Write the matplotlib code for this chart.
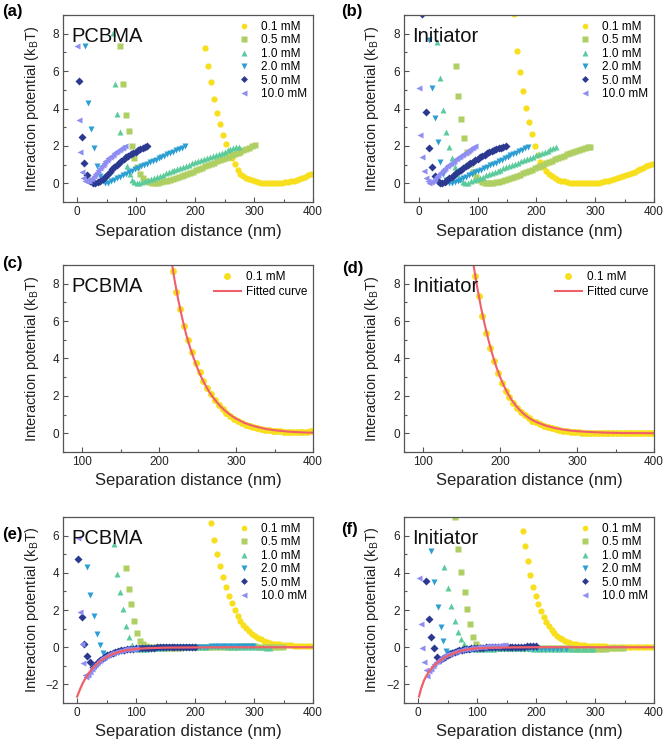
import matplotlib.pyplot as plt
from matplotlib.ticker import MultipleLocator

plt.rcParams['font.family'] = ['Liberation Sans', 'DejaVu Sans']
plt.rcParams['mathtext.fontset'] = 'custom'
plt.rcParams['mathtext.rm'] = 'Liberation Sans'

# ---- series styling ----
conc_labels = ['0.1 mM', '0.5 mM', '1.0 mM', '2.0 mM', '5.0 mM', '10.0 mM']
conc_colors = ['#f7df1e', '#afcf62', '#5ccb9c', '#2c9fd2', '#2b3990', '#8e8df2']
conc_markers = ['o', 's', '^', 'v', 'D', '<']
fit_color = '#f0606a'

# ---- (a) PCBMA ----
pa_x01 = [217, 222, 227, 232, 237, 242, 247, 252, 257, 262, 267, 272, 277, 282, 287, 292, 297, 302, 307, 312,
          317, 322, 327, 332, 337, 342, 347, 352, 357, 362, 367, 372, 377, 382, 387, 392, 397]
pa_y01 = [7.24, 6.25, 5.4, 4.5, 3.78, 3.15, 2.6, 2.12, 1.7, 1.35, 1.02, 0.72, 0.52, 0.4, 0.3, 0.22, 0.16, 0.11,
          0.07, 0.04, 0.02, 0.01, 0.0, 0.0, 0.0, 0.01, 0.03, 0.05, 0.08, 0.11, 0.15, 0.2, 0.25, 0.3, 0.36, 0.42, 0.5]
pa_x05 = [72.6, 78.3, 82.8, 87.9, 92.5, 97, 102, 107, 112, 117, 122, 127,
          132, 137, 142, 147, 152, 157, 162, 167, 172, 177, 182, 187, 192, 197, 202, 207, 212, 217, 222, 227,
          232, 237, 242, 247, 252, 257, 262, 267, 272, 277, 282, 287, 292, 297, 302]
pa_y05 = [7.33, 5.29, 3.67, 2.81, 2.0, 1.35, 0.85, 0.5, 0.28, 0.14, 0.06, 0.03,
          0.02, 0.04, 0.07, 0.1, 0.14, 0.18, 0.22, 0.27, 0.32, 0.37, 0.43, 0.49, 0.55, 0.62, 0.69, 0.76, 0.83,
          0.9, 0.97, 1.04, 1.1, 1.17, 1.24, 1.3, 1.37, 1.43, 1.5, 1.57, 1.64, 1.7, 1.77, 1.84, 1.91, 1.97, 2.04]
pa_x10 = [60, 63.5, 67.5, 72.5, 77, 81, 85, 89, 93, 97, 101, 105,
          110, 115, 120, 125, 130, 135, 140, 145, 150, 155, 160, 165, 170, 175, 180, 185, 190, 195, 200, 205,
          210, 215, 220, 225, 230, 235, 240, 245, 250, 255, 260, 265, 270, 274]
pa_y10 = [8.06, 5.3, 3.7, 2.75, 1.95, 1.45, 0.95, 0.5, 0.2, 0.07, 0.03, 0.03,
          0.06, 0.11, 0.17, 0.23, 0.29, 0.35, 0.41, 0.47, 0.53, 0.59, 0.65, 0.71, 0.77, 0.83, 0.89, 0.94, 1.0,
          1.06, 1.12, 1.17, 1.23, 1.29, 1.35, 1.41, 1.47, 1.52, 1.58, 1.64, 1.7, 1.76, 1.81, 1.87, 1.92, 1.96]
pa_x20 = [13.5, 18, 23, 28, 33, 38, 43, 48, 53, 58, 63, 68, 73, 78, 83, 88, 93, 98, 103, 108, 113, 118, 123,
          128, 133, 138, 143, 148, 153, 158, 163, 168, 173, 178, 183]
pa_y20 = [7.32, 4.3, 2.9, 1.9, 0.95, 0.38, 0.1, 0.02, 0.04, 0.1, 0.18, 0.26, 0.34, 0.42, 0.5, 0.58, 0.66, 0.74,
          0.82, 0.9, 0.97, 1.05, 1.12, 1.2, 1.27, 1.34, 1.41, 1.48, 1.55, 1.62, 1.69, 1.76, 1.83, 1.9, 1.97]
pa_x50 = [3, 7.5, 12, 17, 22, 27, 31, 35, 39, 43, 47, 51, 55, 59, 63, 67, 71, 75, 79, 83, 87, 91, 95, 99, 103,
          107, 111, 115, 119]
pa_y50 = [5.46, 2.46, 1.07, 0.45, 0.12, 0.02, 0.0, 0.06, 0.15, 0.25, 0.36, 0.47, 0.6, 0.74, 0.87, 1.0, 1.1, 1.2,
          1.3, 1.39, 1.48, 1.56, 1.64, 1.7, 1.77, 1.83, 1.88, 1.93, 1.98]
pa_x100 = [0, 3.4, 5.5, 8, 10.5, 13, 15.5, 18, 20.5, 23, 25.5, 28, 30.5, 33, 35.5, 38, 40.5, 43, 45.5, 48,
           50.5, 53, 55.5, 58, 60.5, 63, 65.5, 68, 70.5, 73, 75.5, 78, 80.5]
pa_y100 = [7.33, 3.37, 1.67, 0.63, 0.3, 0.15, 0.1, 0.1, 0.14, 0.22, 0.3, 0.4, 0.5, 0.6, 0.7, 0.8, 0.9, 1.0,
           1.08, 1.17, 1.25, 1.33, 1.4, 1.47, 1.54, 1.6, 1.66, 1.72, 1.78, 1.84, 1.9, 1.95, 2.0]

# ---- (b) Initiator ----
pb_x01 = [162, 167, 172, 177, 182, 187, 192, 197, 202, 207, 212, 217, 222, 227, 232, 237, 242, 247, 252, 257,
          262, 267, 272, 277, 282, 287, 292, 297, 302, 307, 312, 317, 322, 327, 332, 337, 342, 347, 352, 357,
          362, 367, 372, 377, 382, 387, 392, 397]
pb_y01 = [9.05, 7.06, 5.97, 4.92, 4.03, 3.3, 2.62, 2.0, 1.5, 1.15, 0.88, 0.66, 0.5, 0.38, 0.28, 0.2, 0.14, 0.1,
          0.07, 0.04, 0.02, 0.01, 0.0, 0.0, 0.0, 0.0, 0.01, 0.01, 0.02, 0.04, 0.07, 0.1, 0.14, 0.18, 0.22, 0.27,
          0.32, 0.38, 0.44, 0.5, 0.56, 0.62, 0.69, 0.76, 0.83, 0.9, 0.97, 1.04]
pb_x05 = [63, 67.5, 72.5, 77, 82, 87, 92, 97, 102, 107, 112, 117, 122,
          127, 132, 137, 142, 147, 152, 157, 162, 167, 172, 177, 182, 187, 192, 197, 202, 207, 212, 217, 222,
          227, 232, 237, 242, 247, 252, 257, 262, 267, 272, 277, 282, 287, 292]
pb_y05 = [6.29, 4.68, 3.46, 2.44, 1.65, 1.05, 0.62, 0.35, 0.18, 0.08, 0.03, 0.01, 0.0,
          0.02, 0.05, 0.09, 0.13, 0.18, 0.23, 0.29, 0.35, 0.41, 0.47, 0.53, 0.6, 0.66, 0.73, 0.8, 0.87, 0.94,
          1.0, 1.07, 1.14, 1.21, 1.28, 1.35, 1.42, 1.48, 1.55, 1.61, 1.67, 1.73, 1.78, 1.83, 1.88, 1.92, 1.96]
pb_x10 = [31.5, 37, 42, 47, 52, 56.5, 61, 65.5, 70, 74.5, 79,
          84, 89, 94, 99, 104, 109, 114, 119, 124, 129, 134, 139, 144, 149, 154, 159, 164, 169, 174, 179, 184,
          189, 194, 199, 204, 209, 214, 219, 224, 229, 234]
pb_y10 = [7.54, 5.63, 3.92, 2.76, 1.94, 1.35, 0.85, 0.48, 0.22, 0.08, 0.02,
          0.04, 0.1, 0.17, 0.23, 0.3, 0.36, 0.42, 0.48, 0.55, 0.61, 0.67, 0.73, 0.8, 0.86, 0.92, 0.98, 1.05,
          1.11, 1.17, 1.24, 1.3, 1.36, 1.43, 1.49, 1.55, 1.62, 1.68, 1.74, 1.81, 1.87, 1.93]
pb_x20 = [17.5, 22, 27, 32, 37, 42, 47, 52, 56,
          61, 66, 71, 76, 81, 86, 91, 96, 101, 106, 111, 116, 121, 126, 131, 136, 141, 146, 151, 156, 161,
          166, 171, 176, 181, 186]
pb_y20 = [7.64, 5.09, 3.47, 2.2, 1.15, 0.5, 0.18, 0.04, 0.0,
          0.05, 0.12, 0.2, 0.28, 0.35, 0.43, 0.5, 0.58, 0.66, 0.73, 0.81, 0.88, 0.96, 1.03, 1.11, 1.18, 1.26,
          1.34, 1.41, 1.49, 1.56, 1.64, 1.71, 1.79, 1.87, 1.95]
pb_x50 = [6, 13, 18, 22.5, 27, 32, 36,
          40, 44, 48, 52, 56, 60, 64, 68, 72, 76, 80, 84, 88, 92, 96, 100, 104, 108, 112, 116, 120, 124, 128,
          132, 136, 140, 144, 148]
pb_y50 = [9.05, 3.82, 1.9, 0.89, 0.4, 0.12, 0.02,
          0.0, 0.08, 0.17, 0.26, 0.36, 0.46, 0.55, 0.64, 0.73, 0.82, 0.91, 1.0, 1.08, 1.16, 1.24, 1.31, 1.39,
          1.46, 1.53, 1.6, 1.66, 1.72, 1.77, 1.82, 1.87, 1.91, 1.95, 1.99]
pb_x100 = [1, 3, 6, 9, 12, 15, 18,
           20.5, 23, 25.5, 28, 30.5, 33, 35.5, 38, 40.5, 43, 45.5, 48, 50.5, 53, 55.5, 58, 60.5, 63, 65.5, 68,
           70.5, 73, 75.5, 78, 80.5, 83, 85.5, 88, 90.5, 93, 95.5]
pb_y100 = [5.1, 2.6, 1.43, 0.66, 0.3, 0.1, 0.03,
           0.05, 0.12, 0.2, 0.29, 0.37, 0.46, 0.54, 0.62, 0.7, 0.77, 0.84, 0.91, 0.98, 1.04, 1.1, 1.16, 1.22,
           1.28, 1.34, 1.4, 1.46, 1.51, 1.57, 1.62, 1.68, 1.73, 1.79, 1.84, 1.9, 1.95, 2.0]

# ---- (c) PCBMA, 0.1 mM with fit ----
pc_x01 = [217.5, 222.5, 227.5, 232.5, 237.5, 242.5, 247.5, 252.5, 257.5, 262.5, 267.5, 272.5, 277.5, 282.5,
          287.5, 292.5, 297.5, 302.5, 307.5, 312.5, 317.5, 322.5, 327.5, 332.5, 337.5, 342.5, 347.5, 352.5,
          357.5, 362.5, 367.5, 372.5, 377.5, 382.5, 387.5, 392.5, 397.5]
pc_y01 = [8.67, 7.55, 6.65, 5.75, 5.0, 4.35, 3.75, 3.25, 2.8, 2.42, 2.08, 1.78, 1.52, 1.3, 1.1, 0.93, 0.78,
          0.66, 0.55, 0.46, 0.38, 0.32, 0.27, 0.22, 0.19, 0.16, 0.14, 0.12, 0.1, 0.09, 0.08, 0.08, 0.08, 0.08,
          0.09, 0.09, 0.1]
pc_xfit = [216.5, 220, 225, 230, 235, 240, 245, 250, 255, 260, 265, 270, 275, 280, 285, 290, 295, 300, 310,
           320, 330, 340, 350, 360, 370, 380, 390, 400]
pc_yfit = [9.1, 8.2, 7.1, 6.15, 5.3, 4.6, 4.0, 3.45, 2.98, 2.58, 2.22, 1.92, 1.66, 1.43, 1.23, 1.06, 0.91,
           0.78, 0.57, 0.42, 0.31, 0.22, 0.16, 0.12, 0.08, 0.06, 0.04, 0.03]

# ---- (d) Initiator, 0.1 mM with fit ----
pd_x01 = [167, 172, 177, 182, 187, 192, 197, 202, 207, 212, 217, 222, 227, 232, 237, 242, 247, 252, 257, 262,
          267, 272, 277, 282, 287, 292, 297, 302, 307, 312, 317, 322, 327, 332, 337, 342, 347, 352, 357, 362,
          367, 372, 377, 382, 387, 392, 397]
pd_y01 = [8.42, 7.34, 6.25, 5.36, 4.55, 3.85, 3.22, 2.7, 2.27, 1.92, 1.62, 1.36, 1.14, 0.95, 0.79, 0.67, 0.58,
          0.49, 0.41, 0.34, 0.28, 0.23, 0.18, 0.14, 0.11, 0.08, 0.06, 0.05, 0.04, 0.03, 0.02, 0.02, 0.01, 0.01,
          0.01, 0.0, 0.0, 0.0, 0.0, -0.01, -0.01, -0.01, -0.01, -0.01, 0.0, 0.0, 0.0]
pd_xfit = [165, 170, 175, 180, 185, 190, 195, 200, 205, 210, 215, 220, 225, 230, 235, 240, 245, 250, 260, 270,
           280, 290, 300, 320, 340, 360, 380, 400]
pd_yfit = [9.1, 7.85, 6.75, 5.8, 4.95, 4.2, 3.55, 3.0, 2.52, 2.12, 1.78, 1.5, 1.26, 1.06, 0.89, 0.75, 0.64,
           0.55, 0.4, 0.29, 0.21, 0.15, 0.11, 0.06, 0.03, 0.01, 0.01, 0.0]

# ---- (e) PCBMA ----
pe_x01 = [226.5, 232, 237, 242, 247, 252, 257, 262, 267, 272, 277, 282, 287, 292, 297, 302, 307, 312, 317, 322,
          327, 332, 337, 342, 347, 352, 357, 362, 367, 372, 377, 382, 387, 392, 397]
pe_y01 = [6.67, 5.74, 5.0, 4.37, 3.75, 3.22, 2.78, 2.38, 2.02, 1.68, 1.42, 1.2, 1.01, 0.85, 0.71, 0.6, 0.5,
          0.42, 0.35, 0.29, 0.24, 0.2, 0.17, 0.15, 0.13, 0.12, 0.11, 0.1, 0.09, 0.09, 0.08, 0.08, 0.07, 0.07, 0.07]
pe_x05 = [83, 88.5, 92, 96, 101, 107, 112, 117, 122, 127,
          133, 139, 145, 151, 157, 163, 169, 175, 181, 187, 193, 199, 205, 211, 217, 223, 229, 235, 241, 247,
          253, 259, 265, 271, 277, 283, 289, 295, 301, 307, 313, 319, 325, 331, 337, 343, 349]
pe_y05 = [4.25, 3.14, 2.3, 1.42, 0.79, 0.34, 0.15, 0.06, 0.02, 0.0,
          0.0, -0.01, -0.01, -0.02, -0.02, -0.02, -0.02, -0.02, -0.01, -0.01, -0.01, 0.0, 0.0, 0.0, 0.01, 0.01,
          0.01, 0.02, 0.02, 0.02, 0.03, 0.03, 0.03, 0.03, 0.04, 0.04, 0.04, 0.04, 0.04, 0.03, 0.03, 0.03, 0.02,
          0.02, 0.01, 0.01, 0.0]
pe_x10 = [62.5, 68, 73, 78, 82.5, 88, 93, 98, 103, 108, 113, 118, 123, 128, 133, 138, 143, 148, 153,
          159, 165, 171, 177, 183, 189, 195, 201, 207, 213, 219, 225, 231, 237, 243, 249, 255, 261, 267, 273,
          279, 285, 291, 297, 303, 309, 315, 321, 327]
pe_y10 = [5.55, 3.96, 2.95, 2.07, 1.13, 0.55, 0.12, -0.05, -0.1, -0.1, -0.09, -0.08, -0.06, -0.05, -0.04,
          -0.03, -0.02, -0.02, -0.01,
          0.0, 0.0, 0.01, 0.01, 0.02, 0.02, 0.02, 0.03, 0.03, 0.03, 0.03, 0.04, 0.04, 0.04, 0.04, 0.04, 0.03,
          0.03, 0.03, 0.02, 0.02, 0.01, 0.01, 0.0, 0.0, -0.01, -0.01, -0.02, -0.02]
pe_x20 = [17, 22.5, 28, 33.5, 39, 44, 49, 54, 59, 64, 69, 74, 79, 84, 89, 94, 99, 104, 109, 114, 119, 124,
          129, 134, 139, 144, 149,
          155, 161, 167, 173, 179, 185, 191, 197, 203, 209, 215, 221, 227, 233, 239, 245, 251, 257, 263, 269,
          275, 281, 287, 293, 299]
pe_y20 = [4.33, 2.8, 1.68, 0.71, 0.11, -0.3, -0.45, -0.43, -0.38, -0.32, -0.27, -0.22, -0.18, -0.15, -0.12,
          -0.1, -0.08, -0.07, -0.06, -0.05, -0.04, -0.03, -0.03, -0.02, -0.02, -0.01, -0.01,
          0.0, 0.0, 0.0, 0.01, 0.01, 0.01, 0.02, 0.02, 0.02, 0.03, 0.03, 0.03, 0.04, 0.04, 0.04, 0.05, 0.05,
          0.05, 0.05, 0.05, 0.05, 0.05, 0.05, 0.05, 0.05]
pe_x50 = [2, 7.5, 12, 17, 22, 27, 31, 35, 39, 43, 47, 51, 55, 60, 65, 70, 75, 80, 85, 90, 95, 100, 105, 110,
          115, 120, 125, 130, 135, 140, 145, 150, 155, 160, 165, 170, 175, 180, 185, 190, 195, 200]
pe_y50 = [4.72, 1.65, 0.15, -0.48, -0.82, -1.05, -0.95, -0.8, -0.68, -0.58, -0.5, -0.43, -0.37, -0.3, -0.25,
          -0.2, -0.17, -0.14, -0.11, -0.09, -0.07, -0.06, -0.05, -0.04, -0.03, -0.03, -0.02, -0.02, -0.01,
          -0.01, 0.0, 0.0, 0.0, 0.0, 0.0, 0.0, 0.0, 0.0, 0.0, 0.0, 0.0, 0.0]
pe_x100 = [1.5, 5, 7.5, 9.5, 12.5, 15.5, 18.5, 21.5, 24.5, 27.5, 30.5, 33.5, 36.5, 39.5, 42.5, 45.5, 48.5,
           51.5, 54.5, 57.5, 60.5, 63.5, 66.5, 69.5, 72.5, 75.5, 78.5, 81.5, 84.5, 87.5, 90.5, 93.5, 96.5, 99.5]
pe_y100 = [5.9, 1.88, 0.15, -0.85, -1.47, -1.58, -1.5, -1.32, -1.17, -1.04, -0.93, -0.83, -0.74, -0.66,
           -0.59, -0.53, -0.47, -0.42, -0.37, -0.33, -0.29, -0.26, -0.23, -0.2, -0.18, -0.16, -0.14, -0.12,
           -0.11, -0.1, -0.09, -0.08, -0.07, -0.06]
pe_xfit = [0, 5, 10, 15, 20, 25, 30, 35, 40, 45, 50, 60, 70, 80, 90, 100, 120, 150, 200, 250, 400]
pe_yfit = [-2.65, -2.25, -1.9, -1.62, -1.38, -1.18, -1.0, -0.85, -0.72, -0.61, -0.52, -0.37, -0.26, -0.18,
           -0.13, -0.09, -0.05, -0.02, -0.01, 0.0, 0.0]

# ---- (f) Initiator ----
pf_x01 = [177, 181.5, 186, 190.5, 195, 199.5, 204, 208.5, 213, 217.5, 222, 226.5, 231, 235.5, 240, 244.5,
          249, 253.5, 258, 262.5, 267, 271.5, 276, 280.5, 285, 289.5, 294, 298.5, 303, 307.5, 312, 316.5, 321,
          325.5, 330, 334.5, 339, 343.5, 348, 352.5, 357, 361.5, 366, 370.5, 375, 379.5, 384, 388.5, 393, 397.5]
pf_y01 = [6.23, 5.45, 4.65, 3.9, 3.26, 2.74, 2.3, 1.95, 1.64, 1.36, 1.12, 0.92, 0.76, 0.62, 0.51, 0.42, 0.35,
          0.29, 0.24, 0.2, 0.17, 0.14, 0.12, 0.1, 0.09, 0.08, 0.07, 0.06, 0.05, 0.05, 0.04, 0.04, 0.03, 0.03,
          0.03, 0.02, 0.02, 0.02, 0.01, 0.01, 0.01, 0.01, 0.0, 0.0, 0.0, 0.0, 0.0, 0.0, 0.0, 0.0]
pf_x05 = [62.5, 68, 73.5, 79, 83.5, 88, 93, 98.5, 104, 109, 114,
          120, 126, 132, 138, 144, 150, 156, 162, 168, 174, 180, 186, 192, 198, 204, 210, 216, 222, 228, 234,
          240, 246, 252, 258, 264, 270, 276, 282, 288, 294, 300, 306, 312, 318, 324, 330, 336, 342, 348]
pf_y05 = [7.0, 5.3, 4.05, 2.98, 2.05, 1.27, 0.57, 0.2, 0.02, -0.03, -0.04,
          -0.05, -0.05, -0.05, -0.05, -0.05, -0.05, -0.04, -0.04, -0.04, -0.04, -0.03, -0.03, -0.03, -0.03,
          -0.03, -0.03, -0.03, -0.04, -0.04, -0.04, -0.05, -0.05, -0.06, -0.06, -0.07, -0.07, -0.08, -0.08,
          -0.08, -0.08, -0.08, -0.08, -0.07, -0.07, -0.06, -0.06, -0.05, -0.05, -0.04]
pf_x10 = [44, 51, 56.5, 62.5, 67, 72, 78, 83.5, 89, 94, 99, 105,
          111, 117, 123, 129, 135, 141, 147, 153, 159, 165, 171, 177, 183, 189, 195, 201, 207, 213, 219, 225,
          231, 237, 243, 249, 255, 261, 267, 273, 279, 285, 291, 297]
pf_y10 = [4.33, 3.2, 2.22, 1.42, 0.8, 0.42, 0.15, 0.03, -0.05, -0.08, -0.09, -0.09,
          -0.08, -0.08, -0.07, -0.07, -0.06, -0.06, -0.05, -0.05, -0.05, -0.05, -0.05, -0.05, -0.06, -0.06,
          -0.07, -0.07, -0.08, -0.08, -0.09, -0.09, -0.1, -0.1, -0.11, -0.11, -0.12, -0.12, -0.12, -0.12,
          -0.12, -0.12, -0.12, -0.12]
pf_x20 = [21.5, 27, 33, 38, 42.5, 47.5, 53, 58, 63, 68, 73, 78, 83, 88, 93, 98,
          103, 110, 117, 124, 131, 138, 145, 152, 159, 166, 173, 180, 187, 194, 201, 208, 215, 222, 229, 236,
          243, 250]
pf_y20 = [5.15, 3.5, 2.15, 1.07, 0.33, -0.18, -0.31, -0.3, -0.27, -0.24, -0.21, -0.18, -0.16, -0.14, -0.12,
          -0.1,
          -0.09, -0.08, -0.08, -0.07, -0.07, -0.07, -0.07, -0.07, -0.07, -0.08, -0.08, -0.09, -0.09, -0.1,
          -0.1, -0.1, -0.1, -0.1, -0.1, -0.1, -0.1, -0.1]
pf_x50 = [13, 18, 22.5, 27.5, 32.5, 37.5, 42, 46, 50, 54, 58, 62, 66, 70, 74, 78, 82, 86, 90, 95, 100, 105,
          110, 115, 120, 125, 130, 135, 140, 145, 150, 155, 160, 165, 170, 175, 180, 185, 190, 195, 200]
pf_y50 = [3.56, 1.52, 0.53, -0.03, -0.5, -0.66, -0.6, -0.5, -0.42, -0.36, -0.3, -0.25, -0.21, -0.17, -0.14,
          -0.11, -0.09, -0.07, -0.06, -0.04, -0.03, -0.02, -0.02, -0.01, -0.01, 0.0, 0.0, 0.0, 0.0, 0.01,
          0.01, 0.01, 0.02, 0.02, 0.02, 0.03, 0.03, 0.04, 0.05, 0.06, 0.08]
pf_x100 = [1, 4, 6.5, 9.5, 12.5, 15.5, 18.5, 21.5, 24.5, 27.5, 30.5, 33.5, 36.5, 39.5, 42.5, 45.5, 48.5,
           52, 56, 60, 64, 68, 72, 76, 80, 84, 88, 92, 96, 100, 104, 108, 112, 116, 120, 124, 128, 132, 136,
           140, 144, 148]
pf_y100 = [3.7, 1.23, -0.04, -0.77, -1.22, -1.52, -1.3, -1.15, -1.02, -0.91, -0.81, -0.72, -0.64, -0.57,
           -0.5, -0.44, -0.39, -0.34, -0.3, -0.26, -0.22, -0.18, -0.15, -0.12, -0.1, -0.08, -0.06, -0.04,
           -0.02, 0.0, 0.01, 0.02, 0.03, 0.04, 0.05, 0.06, 0.07, 0.08, 0.09, 0.1, 0.11, 0.12]
pf_xfit = [1.5, 5, 10, 15, 20, 25, 30, 35, 40, 45, 50, 60, 70, 80, 90, 100, 120, 150, 200, 400]
pf_yfit = [-2.65, -2.22, -1.78, -1.48, -1.24, -1.05, -0.9, -0.77, -0.65, -0.55, -0.47, -0.33, -0.22, -0.14,
           -0.09, -0.06, -0.03, -0.01, 0.0, 0.0]


fig = plt.figure(figsize=(6.66, 7.43), dpi=100)

col_left = [0.0946, 0.6066]
row_bottom = [0.7281, 0.3917, 0.0538]
ax_w, ax_h = 0.3754, 0.2517

spine_col = '#555555'


def style_axes(ax, xlim, ylim, xmajor, ymajor, name):
    ax.set_xlim(*xlim)
    ax.set_ylim(*ylim)
    ax.xaxis.set_major_locator(MultipleLocator(xmajor))
    ax.xaxis.set_minor_locator(MultipleLocator(xmajor / 2))
    ax.yaxis.set_major_locator(MultipleLocator(ymajor))
    ax.yaxis.set_minor_locator(MultipleLocator(ymajor / 2))
    ax.tick_params(which='both', direction='in', color=spine_col, labelsize=8.5, pad=3,
                   labelcolor='#222222')
    ax.tick_params(which='major', length=3.5, width=0.8)
    ax.tick_params(which='minor', length=2, width=0.8)
    for s in ax.spines.values():
        s.set_color(spine_col)
        s.set_linewidth(0.9)
    ax.set_xlabel('Separation distance (nm)', fontsize=12, color='#222222')
    ax.set_ylabel('Interaction potential (k$_\\mathregular{B}$T)', fontsize=10.5, color='#222222')
    ax.xaxis.set_label_coords(0.5, -0.115)
    ax.yaxis.set_label_coords(-0.09, 0.5)
    ax.text(0.033, 0.857, name, transform=ax.transAxes, fontsize=14.5, va='baseline', ha='left',
            color='#111111')


def draw_six(ax, xs, ys):
    for x, y, lab, col, mk in zip(xs, ys, conc_labels, conc_colors, conc_markers):
        ms = 3.9 if mk == 'D' else 4.5
        ax.plot(x, y, linestyle='none', marker=mk, ms=ms, color=col, mec='none', label=lab)
    ax.legend(loc='upper right', frameon=False, fontsize=8.5, handlelength=0.8, handletextpad=1.0,
              labelspacing=0.12, borderaxespad=0.2, borderpad=0.3, markerscale=0.9)


# (a)
ax_a = fig.add_axes([col_left[0], row_bottom[0], ax_w, ax_h])
draw_six(ax_a, [pa_x01, pa_x05, pa_x10, pa_x20, pa_x50, pa_x100],
         [pa_y01, pa_y05, pa_y10, pa_y20, pa_y50, pa_y100])
style_axes(ax_a, (-24, 400), (-1, 9), 100, 2, 'PCBMA')

# (b)
ax_b = fig.add_axes([col_left[1], row_bottom[0], ax_w, ax_h])
draw_six(ax_b, [pb_x01, pb_x05, pb_x10, pb_x20, pb_x50, pb_x100],
         [pb_y01, pb_y05, pb_y10, pb_y20, pb_y50, pb_y100])
style_axes(ax_b, (-25, 400), (-1, 9), 100, 2, 'Initiator')

# (c), (d)
for col, xd, yd, xf, yf, name in [(0, pc_x01, pc_y01, pc_xfit, pc_yfit, 'PCBMA'),
                                  (1, pd_x01, pd_y01, pd_xfit, pd_yfit, 'Initiator')]:
    ax = fig.add_axes([col_left[col], row_bottom[1], ax_w, ax_h])
    ax.plot(xd, yd, linestyle='none', marker='o', ms=5, color=conc_colors[0], mec='none', label='0.1 mM')
    ax.plot(xf, yf, color=fit_color, lw=1.5, label='Fitted curve')
    ax.legend(loc='upper right', frameon=False, fontsize=8.5, handlelength=2.3, handletextpad=0.4,
              labelspacing=0.25, borderaxespad=0.2, borderpad=0.3)
    style_axes(ax, (75, 400), (-1, 9), 100, 2, name)

# (e)
ax_e = fig.add_axes([col_left[0], row_bottom[2], ax_w, 0.2503])
draw_six(ax_e, [pe_x01, pe_x05, pe_x10, pe_x20, pe_x50, pe_x100],
         [pe_y01, pe_y05, pe_y10, pe_y20, pe_y50, pe_y100])
ax_e.plot(pe_xfit, pe_yfit, color=fit_color, lw=1.6)
style_axes(ax_e, (-24, 400), (-3, 7), 100, 2, 'PCBMA')

# (f)
ax_f = fig.add_axes([col_left[1], row_bottom[2], ax_w, 0.2503])
draw_six(ax_f, [pf_x01, pf_x05, pf_x10, pf_x20, pf_x50, pf_x100],
         [pf_y01, pf_y05, pf_y10, pf_y20, pf_y50, pf_y100])
ax_f.plot(pf_xfit, pf_yfit, color=fit_color, lw=1.6)
style_axes(ax_f, (-24, 400), (-3, 7), 100, 2, 'Initiator')

# panel letters
for lab, x, y in [('(a)', 0.018, 0.985), ('(b)', 0.528, 0.985), ('(c)', 0.018, 0.646),
                  ('(d)', 0.530, 0.638), ('(e)', 0.018, 0.280), ('(f)', 0.525, 0.288)]:
    fig.text(x, y, lab, fontsize=12, fontweight='bold', ha='center', va='center')

fig.savefig('out.png', dpi=100)
